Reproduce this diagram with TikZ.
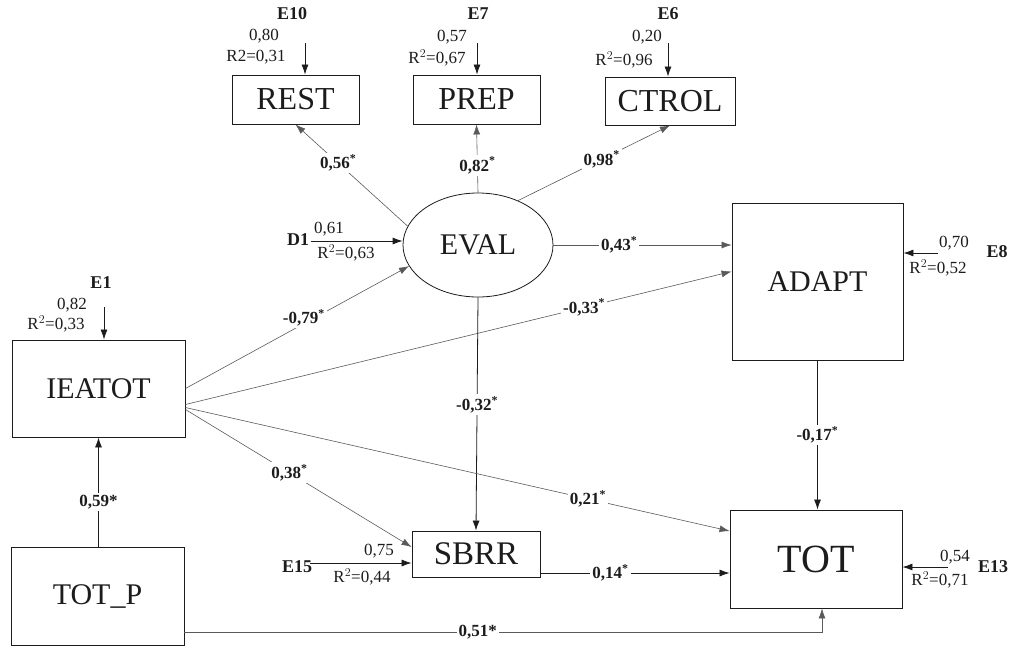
\documentclass[tikz,border=0pt]{standalone}
\usepackage{fontspec}
\setmainfont{Liberation Serif}
\usetikzlibrary{arrows.meta,shapes.geometric,positioning}
\definecolor{ink}{HTML}{1C1C1C}
\definecolor{faint}{HTML}{5A5A5A}
\tikzset{
  var/.style={draw=ink,line width=0.9pt,rectangle,inner sep=0pt,text=ink},
  arr/.style={-{Latex[length=10pt,width=7pt]},draw=ink,line width=0.8pt},
  farr/.style={arr,draw=faint,line width=0.6pt},
  wgt/.style={font=\bfseries\fontsize{17}{19}\selectfont,fill=white,inner sep=2pt,text=ink},
  errname/.style={font=\bfseries\fontsize{18}{20}\selectfont,text=ink,inner sep=1pt},
  num/.style={font=\fontsize{17}{19}\selectfont,text=ink,inner sep=1pt},
}

\begin{document}
\begin{tikzpicture}[x=1pt,y=-1pt]
\useasboundingbox (0,0) rectangle (1016,649);

% measured variables and the latent factor
\node[var,minimum width=127pt,minimum height=49pt,font=\fontsize{32}{36}\selectfont] (rest) at (295.5,99.5) {REST};
\node[var,minimum width=127pt,minimum height=49pt,font=\fontsize{32}{36}\selectfont] (prep) at (476.5,99.5) {PREP};
\node[var,minimum width=130pt,minimum height=48pt,font=\fontsize{32}{36}\selectfont] (ctrol) at (670,101) {CTROL};
\node[ellipse,draw=ink,line width=0.8pt,minimum width=150pt,minimum height=104pt,inner sep=0pt,text=ink,font=\fontsize{30}{34}\selectfont] (eval) at (478,245) {EVAL};
\node[var,minimum width=171pt,minimum height=157pt,font=\fontsize{30}{34}\selectfont] (adapt) at (817.5,281.5) {ADAPT};
\node[var,minimum width=173pt,minimum height=97pt,font=\fontsize{30}{34}\selectfont] (ieatot) at (98.5,388.5) {IEATOT};
\node[var,minimum width=173pt,minimum height=98pt,font=\fontsize{30}{34}\selectfont] (totp) at (97.5,596) {TOT\_P};
\node[var,minimum width=128pt,minimum height=46pt,font=\fontsize{33}{36}\selectfont] (sbrr) at (476,554) {SBRR};
\node[var,minimum width=172pt,minimum height=98pt,font=\fontsize{40}{44}\selectfont] (tot) at (816,559) {TOT};

% error terms
\node[errname] (e10) at (292,14) {E10};
\node[num] (e10a) at (264,36) {0,80};
\node[num] (e10b) at (256,57) {R2=0,31};
\coordinate (e10c) at (305,43);
\draw[arr] (e10c) -- (e10c |- rest.north);

\node[errname] (e7) at (478,14) {E7};
\node[num] (e7a) at (452,37) {0,57};
\node[num] (e7b) at (437,58) {R$^2$=0,67};
\coordinate (e7c) at (477,43);
\draw[arr] (e7c) -- (e7c |- prep.north);

\node[errname] (e6) at (668,14) {E6};
\node[num] (e6a) at (647,37) {0,20};
\node[num] (e6b) at (624,60) {R$^2$=0,96};
\coordinate (e6c) at (668,43);
\draw[arr] (e6c) -- (e6c |- ctrol.north);

\node[errname] (e1) at (101,283) {E1};
\node[num] (e1a) at (72,305) {0,82};
\node[num] (e1b) at (56,324) {R$^2$=0,33};
\coordinate (e1c) at (104,307);
\draw[arr] (e1c) -- (e1c |- ieatot.north);

\node[errname] (d1) at (298,240) {D1};
\node[num] (d1a) at (329,229) {0,61};
\node[num] (d1b) at (346,253) {R$^2$=0,63};
\coordinate (d1c) at (311,241);
\draw[arr] (d1c) -- (d1c -| eval.west);

\node[errname] (e15) at (297,567) {E15};
\node[num] (e15a) at (379,551) {0,75};
\node[num] (e15b) at (362,577) {R$^2$=0,44};
\coordinate (e15c) at (310,563);
\draw[arr] (e15c) -- (e15c -| sbrr.west);

\node[errname] (e8) at (997,252) {E8};
\node[num] (e8a) at (954,243) {0,70};
\node[num] (e8b) at (938,268) {R$^2$=0,52};
\coordinate (e8c) at (938,253);
\draw[arr] (e8c) -- (e8c -| adapt.east);

\node[errname] (e13) at (993,567) {E13};
\node[num] (e13a) at (955,557) {0,54};
\node[num] (e13b) at (940,580) {R$^2$=0,71};
\coordinate (e13c) at (948,567);
\draw[arr] (e13c) -- (e13c -| tot.east);

% paths
\draw[farr] (eval.165) -- (rest.south) node[wgt,pos=0.62] (w1) {0,56\textsuperscript{*}};
\draw[farr] (eval.north) -- (prep.south) node[wgt,pos=0.4] (w2) {0,82\textsuperscript{*}};
\draw[farr] (eval.48) -- (ctrol.south) node[wgt,pos=0.55] (w3) {0,98\textsuperscript{*}};
\draw[farr] (ieatot.east) -- (eval.197) node[wgt,pos=0.53,yshift=6pt] (w4) {-0,79\textsuperscript{*}};
\draw[farr] (eval.east) -- (eval.east -| adapt.west) node[wgt,pos=0.37] (w5) {0,43\textsuperscript{*}};
\draw[farr] ([yshift=-16pt]ieatot.east) -- ([yshift=10pt]adapt.west) node[wgt,pos=0.73] (w6) {-0,33\textsuperscript{*}};
\draw[arr] (eval.south) -- (sbrr.north) node[wgt,pos=0.46] (w7) {-0,32\textsuperscript{*}};
\draw[farr] ([yshift=-21pt]ieatot.east) -- ([yshift=7pt]sbrr.west) node[wgt,pos=0.46] (w8) {0,38\textsuperscript{*}};
\draw[farr] ([yshift=-19pt]ieatot.east) -- ([yshift=28pt]tot.west) node[wgt,pos=0.74] (w9) {0,21\textsuperscript{*}};
\draw[arr] (adapt.south) -- (adapt.south |- tot.north) node[wgt,pos=0.5] (w10) {-0,17\textsuperscript{*}};
\coordinate (s1) at ([yshift=-19pt]sbrr.east);
\draw[arr] (s1) -- (s1 -| tot.west) node[wgt,pos=0.37] (w11) {0,14\textsuperscript{*}};
\draw[arr] (totp.north -| ieatot.south) -- (ieatot.south) node[wgt,pos=0.41] (w12) {0,59*};
\coordinate (p1) at ([yshift=-36pt]totp.east);
\draw[farr] (p1) -| ([xshift=6pt]tot.south) node[wgt,pos=0.23] (w13) {0,51*};
\end{tikzpicture}
\end{document}
